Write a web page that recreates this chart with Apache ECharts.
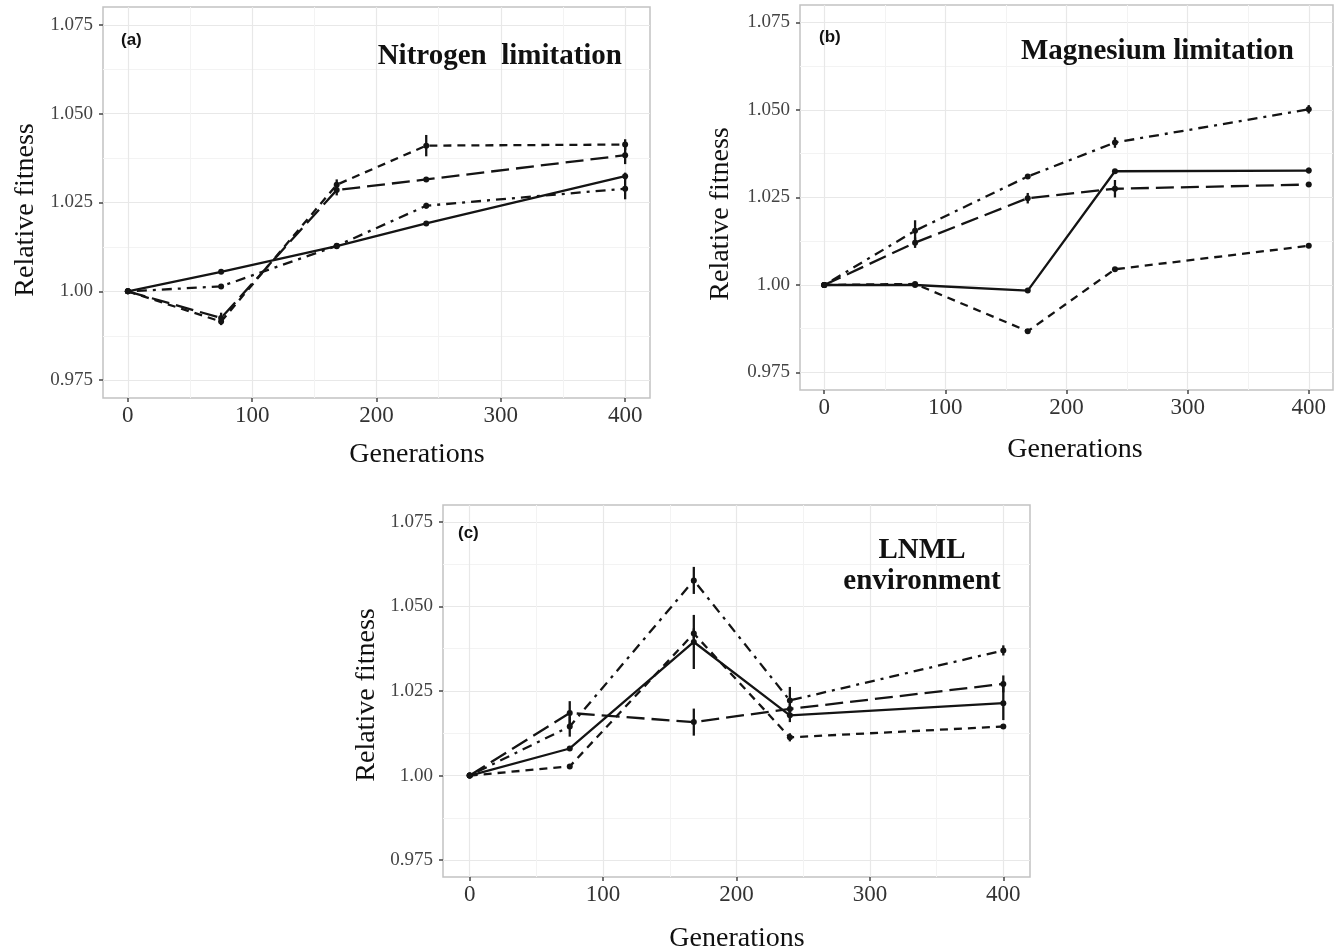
<!DOCTYPE html>
<html>
<head>
<meta charset="utf-8">
<script src="https://cdn.jsdelivr.net/npm/echarts@6/dist/echarts.min.js"></script>
<style>
html, body { margin: 0; padding: 0; background: #fff; }
#chart { width: 1340px; height: 952px; }
</style>
</head>
<body>
<div id="chart"></div>
<script>
// shared axis data
var generations = [0, 75, 168, 240, 400];
var xTicks = [0, 100, 200, 300, 400];
var xMinor = [50, 150, 250, 350];
var yTicks = [0.975, 1.0, 1.025, 1.05, 1.075];
var yTickLabels = ['0.975', '1.00', '1.025', '1.050', '1.075'];
var yMinor = [0.9875, 1.0125, 1.0375, 1.0625];

// (a) nitrogen limitation
var nitroSolid = [1.000, 1.0055, 1.0127, 1.0191, 1.0324];
var nitroShort = [1.000, 0.9915, 1.0300, 1.0410, 1.0413];
var nitroLong = [1.000, 0.9925, 1.0285, 1.0315, 1.0383];
var nitroDotDash = [1.000, 1.0014, 1.0128, 1.0241, 1.0289];
var nitroSolidErr = [0, 0.0005, 0.0005, 0.0005, 0.001];
var nitroShortErr = [0, 0.001, 0.0015, 0.003, 0.0015];
var nitroLongErr = [0, 0.0015, 0.0015, 0.0005, 0.0025];
var nitroDotDashErr = [0, 0.0005, 0.0005, 0.0008, 0.003];

// (b) magnesium limitation
var magSolid = [1.000, 1.0000, 0.9984, 1.0325, 1.0327];
var magShort = [1.000, 1.0003, 0.9868, 1.0045, 1.0112];
var magLong = [1.000, 1.0121, 1.0248, 1.0275, 1.0287];
var magDotDash = [1.000, 1.0155, 1.0310, 1.0407, 1.0502];
var magSolidErr = [0, 0, 0.0005, 0.0005, 0.0008];
var magShortErr = [0, 0.0005, 0.0005, 0.0005, 0.0005];
var magLongErr = [0, 0.0015, 0.0015, 0.0025, 0.0005];
var magDotDashErr = [0, 0.003, 0.0005, 0.0015, 0.0012];

// (c) LNML environment
var lnmlSolid = [1.000, 1.0080, 1.0395, 1.0178, 1.0214];
var lnmlShort = [1.000, 1.0027, 1.0420, 1.0113, 1.0145];
var lnmlLong = [1.000, 1.0185, 1.0158, 1.0197, 1.0271];
var lnmlDotDash = [1.000, 1.0145, 1.0577, 1.0222, 1.0370];
var lnmlSolidErr = [0, 0.0005, 0.008, 0.002, 0.005];
var lnmlShortErr = [0, 0.0005, 0.0015, 0.0012, 0.0005];
var lnmlLongErr = [0, 0.0035, 0.004, 0.0015, 0.0025];
var lnmlDotDashErr = [0, 0.003, 0.004, 0.004, 0.0015];

var serif = 'Liberation Serif';
var ink = '#141414';
var dashes = {
  solid: 'solid',
  short: [8, 6],
  long: [18, 7],
  dotdash: [3, 6, 10, 6]
};

var panels = [
  {
    box: { left: 103, top: 7, width: 547, height: 391 },
    lines: [
      [nitroSolid, nitroSolidErr, 'solid'],
      [nitroShort, nitroShortErr, 'short'],
      [nitroLong, nitroLongErr, 'long'],
      [nitroDotDash, nitroDotDashErr, 'dotdash']
    ]
  },
  {
    box: { left: 800, top: 5, width: 533, height: 385 },
    lines: [
      [magSolid, magSolidErr, 'solid'],
      [magShort, magShortErr, 'short'],
      [magLong, magLongErr, 'long'],
      [magDotDash, magDotDashErr, 'dotdash']
    ]
  },
  {
    box: { left: 443, top: 505, width: 587, height: 372 },
    lines: [
      [lnmlSolid, lnmlSolidErr, 'solid'],
      [lnmlShort, lnmlShortErr, 'short'],
      [lnmlLong, lnmlLongErr, 'long'],
      [lnmlDotDash, lnmlDotDashErr, 'dotdash']
    ]
  }
];

var grids = [], xAxes = [], yAxes = [], series = [];

panels.forEach(function (p, k) {
  grids.push({
    left: p.box.left, top: p.box.top, width: p.box.width, height: p.box.height,
    show: true, borderColor: '#c2c2c2', borderWidth: 1.5, backgroundColor: '#fff'
  });
  // main x axis
  xAxes.push({
    type: 'value', gridIndex: k, min: -20, max: 420,
    axisLine: { show: false, onZero: false },
    axisTick: { show: true, customValues: xTicks, length: 4, lineStyle: { color: '#444', width: 1.5 } },
    axisLabel: { customValues: xTicks, margin: 6, fontFamily: serif, fontSize: 23, color: '#333' },
    splitLine: { show: true, lineStyle: { color: '#e8e8e8', width: 1.2 } }
  });
  // minor x grid
  xAxes.push({
    type: 'value', gridIndex: k, min: -20, max: 420,
    axisLine: { show: false, onZero: false },
    axisTick: { show: false, customValues: xMinor },
    axisLabel: { show: false },
    splitLine: { show: true, lineStyle: { color: '#f3f3f3', width: 1 } }
  });
  yAxes.push({
    type: 'value', gridIndex: k, min: 0.97, max: 1.08,
    axisLine: { show: false, onZero: false },
    axisTick: { show: true, customValues: yTicks, length: 4, lineStyle: { color: '#444', width: 1.5 } },
    axisLabel: {
      customValues: yTicks, margin: 10, fontFamily: serif, fontSize: 19, color: '#444',
      formatter: function (v) {
        for (var i = 0; i < yTicks.length; i++) {
          if (Math.abs(yTicks[i] - v) < 1e-9) return yTickLabels[i];
        }
        return '';
      }
    },
    splitLine: { show: true, lineStyle: { color: '#e8e8e8', width: 1.2 } }
  });
  yAxes.push({
    type: 'value', gridIndex: k, min: 0.97, max: 1.08,
    axisLine: { show: false, onZero: false },
    axisTick: { show: false, customValues: yMinor },
    axisLabel: { show: false },
    splitLine: { show: true, lineStyle: { color: '#f3f3f3', width: 1 } }
  });

  p.lines.forEach(function (ln) {
    var vals = ln[0], errs = ln[1], style = ln[2];
    series.push({
      type: 'line', xAxisIndex: 2 * k, yAxisIndex: 2 * k,
      data: generations.map(function (g, i) { return [g, vals[i]]; }),
      symbol: 'circle', symbolSize: 6, showSymbol: true,
      lineStyle: { color: ink, width: 2.3, type: dashes[style] },
      itemStyle: { color: ink },
      z: 3
    });
    series.push({
      type: 'custom', xAxisIndex: 2 * k, yAxisIndex: 2 * k,
      data: generations.map(function (g, i) { return [g, vals[i] - errs[i], vals[i] + errs[i]]; }),
      encode: { x: 0, y: [1, 2] },
      renderItem: function (params, api) {
        var lo = api.coord([api.value(0), api.value(1)]);
        var hi = api.coord([api.value(0), api.value(2)]);
        return {
          type: 'line',
          shape: { x1: lo[0], y1: lo[1], x2: hi[0], y2: hi[1] },
          style: { stroke: ink, lineWidth: 2.3 }
        };
      },
      z: 4, silent: true
    });
  });
});

var labelFont = 'bold 17px "Liberation Sans"';
var titleFont = 'bold 29px "Liberation Serif"';
var axisNameFont = '28px "Liberation Serif"';

function label(x, y, text, font, align, rot) {
  return {
    type: 'text', x: x, y: y, z: 100, rotation: rot || 0,
    style: { text: text, font: font, fill: '#111', textAlign: align, textVerticalAlign: 'middle' }
  };
}

var vert = Math.PI / 2;

var option = {
  animation: false,
  backgroundColor: '#fff',
  grid: grids,
  xAxis: xAxes,
  yAxis: yAxes,
  series: series,
  graphic: [
    label(121, 40, '(a)', labelFont, 'left'),
    label(622, 57, 'Nitrogen  limitation', titleFont, 'right'),
    label(819, 37, '(b)', labelFont, 'left'),
    label(1294, 52, 'Magnesium limitation', titleFont, 'right'),
    label(458, 533, '(c)', labelFont, 'left'),
    label(922, 551, 'LNML', titleFont, 'center'),
    label(922, 582, 'environment', titleFont, 'center'),
    // axis titles
    label(26, 210, 'Relative fitness', axisNameFont, 'center', vert),
    label(417, 455, 'Generations', axisNameFont, 'center'),
    label(721, 214, 'Relative fitness', axisNameFont, 'center', vert),
    label(1075, 450, 'Generations', axisNameFont, 'center'),
    label(367, 695, 'Relative fitness', axisNameFont, 'center', vert),
    label(737, 939, 'Generations', axisNameFont, 'center')
  ]
};

var chart = echarts.init(document.getElementById('chart'));
chart.setOption(option);
</script>
</body>
</html>
